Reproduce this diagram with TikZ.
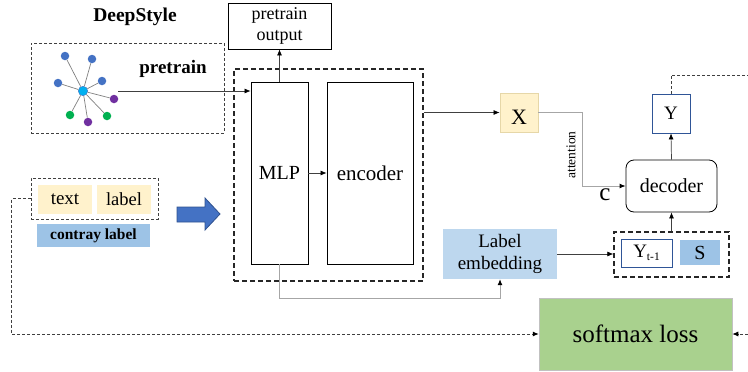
\documentclass[tikz,border=0pt]{standalone}
\usepackage{fontspec}
\setmainfont{Liberation Serif}
\usetikzlibrary{arrows.meta,positioning}
\definecolor{ylw}{HTML}{FFF2CC}
\definecolor{ylwb}{HTML}{E6D7A8}
\definecolor{blu1}{HTML}{9DC3E6}
\definecolor{blu2}{HTML}{BDD7EE}
\definecolor{ybord}{HTML}{2F5597}
\definecolor{grn}{HTML}{A9D18E}
\definecolor{ablue}{HTML}{4472C4}
\definecolor{ablueb}{HTML}{2F528F}
\definecolor{gpurp}{HTML}{7030A0}
\definecolor{ggreen}{HTML}{00B050}
\definecolor{gcyan}{HTML}{00B0F0}
\definecolor{lgray}{HTML}{A6A6A6}
\definecolor{dgray}{HTML}{404040}
\newcommand{\fs}[1]{\fontsize{#1}{#1}\selectfont}
\tikzset{
  boxn/.style={draw=black, line width=0.8pt, inner sep=0pt, align=center},
  fillbox/.style={inner sep=0pt, align=center},
  dbox/.style={draw=dgray, line width=0.9pt, dash pattern=on 3pt off 2pt, inner sep=0pt},
  bigd/.style={draw=black!85, line width=1.6pt, dash pattern=on 5pt off 3pt, inner sep=0pt},
  arr/.style={-{Latex[length=6pt,width=5pt,color=black]}},
  conn/.style={arr, draw=dgray, line width=0.7pt},
  gconn/.style={arr, draw=lgray, line width=0.9pt},
  dconn/.style={draw=dgray, line width=0.9pt, dash pattern=on 3pt off 2pt},
  gnode/.style={circle, inner sep=0pt, minimum size=8.5pt, draw=none},
}
\begin{document}
\begin{tikzpicture}[x=1pt,y=-1pt]
\useasboundingbox (0,0) rectangle (748,372);
% DeepStyle part
\node[font=\bfseries\fs{19.5}] (dstitle) at (135,17) {DeepStyle};
\node[dbox, minimum width=193pt, minimum height=90pt] (deepbox) at (127.5,88) {};
\node[font=\bfseries\fs{19}] (ptlbl) at (173,69) {pretrain};
\foreach \n/\px/\py/\c in {g1/65/56/ablue, g2/92/59/ablue, g3/58/83/ablue, g4/102/81/ablue, g5/114/99/gpurp, g6/107/116/ggreen, g7/88/122/gpurp, g8/70/115/ggreen}{
  \node[gnode, fill=\c] (\n) at (\px,\py) {};
}
\node[gnode, fill=gcyan, draw=ablue, line width=0.4pt, minimum size=9.5pt] (c0) at (83,91) {};
\foreach \n in {g1,g2,g3,g4,g5,g6,g7,g8}{
  \draw[draw=gray, line width=0.7pt] (c0) -- (\n);
}
% pretrain output
\node[boxn, minimum width=103pt, minimum height=46pt, font=\fs{18}] (pout) at (279.5,26) {pretrain\\[3pt]output};
% big dashed box
\node[bigd, minimum width=189pt, minimum height=212pt] (bigdash) at (328.5,175) {};
\node[boxn, minimum width=57pt, minimum height=182pt, font=\fs{20}] (mlp) at (279.5,173) {MLP};
\node[boxn, minimum width=86pt, minimum height=182pt, font=\fs{21}] (enc) at (370,173) {encoder};
\coordinate (gstart) at (118,91);
\draw[conn] (gstart) -- (mlp.west |- gstart);
\draw[conn] (mlp.north) -- (pout.south);
\draw[conn] (mlp.east) -- (enc.west);
% X
\node[fillbox, fill=ylw, draw=ylwb, line width=0.8pt, minimum width=38pt, minimum height=39pt] (X) at (519,112.5) {};
\node[font=\fs{22}] (Xt) at (519,117) {X};
\draw[conn] (bigdash.east |- X.west) -- (X.west);
% decoder and Y
\node[boxn, rounded corners=8pt, minimum width=91pt, minimum height=52pt, font=\fs{20}] (dec) at (671.5,186) {decoder};
\node[boxn, draw=ybord, minimum width=38pt, minimum height=39pt, font=\fs{19}] (Y) at (671,113.5) {Y};
\draw[gconn] (X.east) -- ++(44,0) |- (dec.west);
\node[rotate=90, font=\fs{13.5}] (attn) at (571,155) {attention};
\node[font=\fs{25}] (cc) at (605,195) {c};
\draw[conn] (dec.north) -- (Y.south);
\coordinate (topright) at (748,75);
\draw[dconn] (Y.north) |- (topright);
% label embedding and Yt-1 S
\node[fillbox, fill=blu2, minimum width=114pt, minimum height=50pt, font=\fs{19}] (lab) at (500,254) {Label\\[3pt]embedding};
\node[bigd, line width=1.3pt, minimum width=115pt, minimum height=45pt] (ydash) at (671.5,254.5) {};
\node[boxn, draw=ybord, minimum width=51pt, minimum height=28pt, font=\fs{19}] (yt) at (646.5,253) {Y\raisebox{-3pt}{\fs{11.5}t-1}};
\node[fillbox, fill=blu1, minimum width=40pt, minimum height=25pt, font=\fs{20}] (S) at (700,252.5) {S};
\draw[conn] (lab.east) -- (ydash.west |- lab.east);
\draw[conn] (ydash.north -| dec.south) -- (dec.south);
\draw[gconn] (mlp.south) -- ++(0,34) -| (lab.south);
% softmax
\node[fillbox, fill=grn, draw=lgray!70, line width=0.5pt, minimum width=193pt, minimum height=72pt, font=\fs{25}] (soft) at (635.5,334) {softmax loss};
\coordinate (rightin) at (748,334);
\draw[dconn, arr] (rightin) -- (soft.east);
% left inputs
\node[dbox, minimum width=127pt, minimum height=41pt] (tldash) at (94.5,198.5) {};
\node[fillbox, fill=ylw, minimum width=54pt, minimum height=29pt, font=\fs{19}] (txt) at (65,199.5) {text};
\node[fillbox, fill=ylw, minimum width=54pt, minimum height=29pt, font=\fs{18.5}] (lbl) at (124,199.5) {label};
\node[fillbox, fill=blu1, minimum width=113pt, minimum height=23pt, font=\bfseries\fs{15.5}] (contray) at (93.5,235.5) {contray label};
\draw[dconn, arr] (tldash.west) -- ++(-19,0) |- (soft.west);
% block arrow
\draw[fill=ablue, draw=ablueb, line width=0.8pt] (177,207) -- (205,207) -- (205,198) -- (220,214) -- (205,230) -- (205,222) -- (177,222) -- cycle;
\end{tikzpicture}
\end{document}
